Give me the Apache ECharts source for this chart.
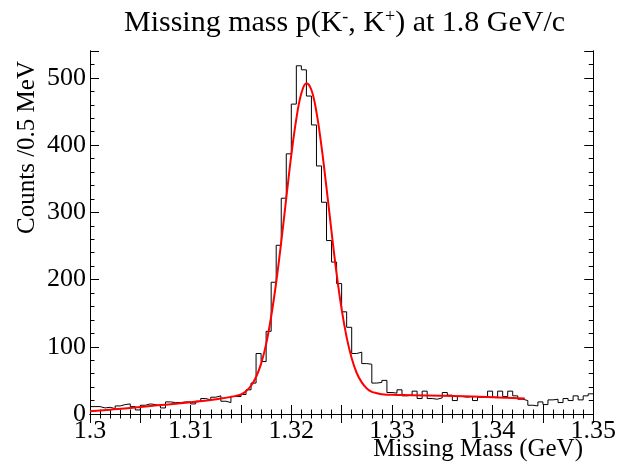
<!DOCTYPE html>
<html>
<head>
<meta charset="utf-8">
<script src="https://cdn.jsdelivr.net/npm/echarts@6/dist/echarts.min.js"></script>
<style>
html,body{margin:0;padding:0;background:#fff;}
#chart{width:619px;height:465px;}
</style>
</head>
<body>
<div id="chart"></div>
<script>
// Histogram definition: 100 bins of 0.5 MeV from 1.30 to 1.35 GeV
const binStart = 1.30;
const binWidth = 0.0005;
const counts = [
  11, 11, 9, 10, 8, 12, 14, 15, 11, 6,
  13, 15, 14, 12, 9, 18, 17, 17, 18, 18,
  15, 19, 23, 21, 25, 27, 19, 17, 26, 26,
  29, 36, 46, 90, 78, 123, 196, 251, 321, 387,
  461, 518, 512, 473, 430, 369, 315, 258, 226, 194,
  152, 129, 90, 92, 75, 74, 46, 47, 50, 32,
  31, 36, 27, 28, 34, 23, 34, 23, 22, 24,
  32, 28, 20, 26, 25, 26, 20, 25, 25, 34,
  25, 34, 26, 34, 27, 22, 20, 13, 12, 18,
  14, 21, 22, 17, 23, 20, 27, 21, 27, 30
];
// Fit curve (red)
const fitMass = [1.300, 1.302, 1.304, 1.306, 1.308, 1.310, 1.312, 1.313, 1.314, 1.3145,
  1.315, 1.3155, 1.316, 1.3165, 1.317, 1.3175, 1.318, 1.3185, 1.319, 1.3195,
  1.320, 1.3205, 1.321, 1.3215, 1.322, 1.3225, 1.323, 1.3235, 1.324, 1.3245,
  1.325, 1.3255, 1.326, 1.3265, 1.327, 1.3275, 1.328, 1.3285, 1.329, 1.330,
  1.332, 1.335, 1.338, 1.3405, 1.3432];
const fitCounts = [4, 6.5, 9, 12, 14.5, 17.5, 21, 23, 25.5, 27,
  29, 34, 42, 55, 75, 104, 145, 196, 256, 321,
  385, 439, 477, 492, 482, 449, 398, 336, 271, 209,
  156, 114, 83, 61, 47, 38, 33, 31, 29.5, 28.5,
  28, 27, 26, 24.5, 23];

const xMin = 1.30, xMax = 1.35;
const yMin = 0, yMax = 540;
const titleText = 'Missing mass p(K{sup|-}, K{sup|+}) at 1.8 GeV/c';
const xTitle = 'Missing Mass (GeV)';
const yTitle = 'Counts /0.5 MeV';

const FONT = '"Liberation Serif", "DejaVu Serif", serif';

const histPts = counts.map((c, i) => [binStart + i * binWidth, c]);
histPts.push([binStart + counts.length * binWidth, counts[counts.length - 1]]);
const fitPts = fitMass.map((m, i) => [m, fitCounts[i]]);

const chart = echarts.init(document.getElementById('chart'), null, {renderer: 'canvas'});

const axisLine = {show: true, lineStyle: {color: '#000', width: 1}};
function xAx(pos, labels) {
  return {
    type: 'value', min: xMin, max: xMax, interval: 0.005, position: pos,
    axisLine: axisLine,
    axisTick: {show: true, inside: true, length: 9, lineStyle: {color: '#000'}},
    minorTick: {show: true, splitNumber: 5, length: 4.5, lineStyle: {color: '#000'}},
    splitLine: {show: false}, minorSplitLine: {show: false},
    axisLabel: {
      show: labels, margin: 4, color: '#000', fontFamily: FONT, fontSize: 26,
      formatter: v => {
        const k = Math.round(v * 100);
        if (Math.abs(v * 100 - k) > 1e-6) return '';
        return String(Number(v.toFixed(3)));
      }
    }
  };
}
function yAx(pos, major, labels) {
  return {
    type: 'value', min: yMin, max: yMax, interval: major ? 100 : 20, position: pos,
    axisLine: axisLine,
    axisTick: {show: true, inside: true, length: major ? 9 : 4.5, lineStyle: {color: '#000'}},
    splitLine: {show: false},
    axisLabel: {
      show: labels, margin: 4, color: '#000', fontFamily: FONT, fontSize: 26,
      formatter: v => (v % 100 === 0 ? String(v) : '')
    }
  };
}

chart.setOption({
  animation: false,
  backgroundColor: '#fff',
  title: {
    text: titleText, left: 119, top: 3,
    textStyle: {
      fontFamily: FONT, fontSize: 30, fontWeight: 'normal', color: '#000',
      rich: {sup: {fontFamily: FONT, fontSize: 18, verticalAlign: 'top', color: '#000'}}
    }
  },
  grid: {left: 90, right: 22, top: 51, bottom: 51},
  xAxis: [xAx('bottom', true), xAx('top', false)],
  yAxis: [yAx('left', true, true), yAx('left', false, false), yAx('right', true, false), yAx('right', false, false)],
  graphic: [
    {type: 'text', right: 36, top: 437,
     style: {text: xTitle, fontFamily: FONT, fontSize: 25, fill: '#000'}},
    {type: 'text', x: 27, y: 61, rotation: Math.PI / 2,
     style: {text: yTitle, fontFamily: FONT, fontSize: 25, fill: '#000', align: 'right', verticalAlign: 'middle'}}
  ],
  series: [
    {type: 'line', data: histPts, step: 'end', symbol: 'none', xAxisIndex: 0, yAxisIndex: 0,
     lineStyle: {color: '#000', width: 1}, z: 2},
    {type: 'line', data: fitPts, smooth: 0.4, symbol: 'none', xAxisIndex: 0, yAxisIndex: 0,
     lineStyle: {color: '#ff0000', width: 2}, z: 3}
  ]
});
</script>
</body>
</html>
